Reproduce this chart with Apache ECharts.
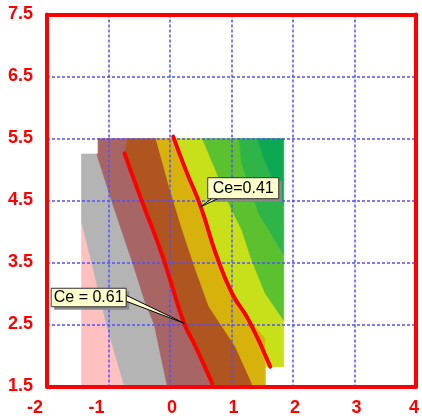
<!DOCTYPE html>
<html><head><meta charset="utf-8">
<script src="https://cdn.jsdelivr.net/npm/echarts@6/dist/echarts.min.js"></script>
<style>html,body{margin:0;padding:0;background:#fff}#c{width:422px;height:419px}</style>
</head><body><div id="c"></div>
<script>
// ---- axis ranges ----
const xRange = [-2, 4];
const yRange = [1.5, 7.5];

// ---- data domain (union of two rectangles: [xmin, xmax, ymin, ymax]) ----
const domainLower = [-1.44, 1.55, 1.5, 5.25];
const domainUpper = [-1.17, 1.85, 1.82, 5.5];

// ---- filled-contour band boundaries (top to bottom, left band | right band) ----
const edgePinkGray   = [[-1.6,6],[-1.6,4.3],[-1.435,4.14],[-1.273,3.5],[-1.03,2.49],[-0.74,1.5],[-0.7,1.0]];
const edgeGrayRosy   = [[-1.19,6],[-1.19,5.25],[-0.95,4.5],[-0.61,3.5],[-0.4,2.85],[-0.255,2.5],[-0.045,1.5],[0,1.0]];
const edgeRosyBrown  = [[-0.70,6],[-0.70,5.5],[-0.74,5.26],[-0.444,4.455],[-0.175,3.755],[-0.013,3.27],[0.23,2.52],[0.418,2.14],[0.687,1.55],[0.72,1.0]];
const edgeBrownGold  = [[-0.23,6],[-0.228,5.5],[-0.013,4.72],[0.202,4.02],[0.418,3.38],[0.633,2.79],[1.065,2.14],[1.333,1.55],[1.36,1.0]];
const edgeGoldYellow = [[0.05,6],[0.05,5.5],[0.257,4.99],[0.5,4.4],[0.742,3.65],[1.01,3.0],[1.30,2.58],[1.55,2.28],[1.55,1.0]];
const edgeYellowLight= [[0.525,6],[0.525,5.5],[0.742,4.99],[0.956,4.45],[1.17,4.02],[1.328,3.54],[1.55,3.0],[1.845,2.57],[2.3,2.0],[2.3,1.0]];
const edgeLightGreen = [[1.118,6],[1.118,5.5],[1.166,5.1],[1.44,4.3],[1.845,3.62],[2.5,3.0],[2.5,1.0]];
const edgeGreenDark  = [[1.41,6],[1.41,5.5],[1.60,4.99],[1.845,4.43],[2.7,3.5],[2.7,1.0]];

// ---- contour lines ----
const lineCe061 = [[-0.74,5.26],[-0.444,4.455],[-0.175,3.755],[-0.013,3.27],[0.23,2.52],[0.418,2.14],[0.687,1.55]];
const lineCe041 = [[0.052,5.53],[0.257,4.99],[0.5,4.4],[0.742,3.65],[1.01,3.0],[1.28,2.57],[1.63,1.82]];

// ---- callouts ----
const calloutText = ['Ce = 0.61', 'Ce=0.41'];
const calloutAt = [[0.23, 2.52], [0.5, 4.4]];

// ---- styles ----
const bandColors = ['#FFC0C0','#B4B4B4','#A86565','#AE5520','#D8B20C','#C8E01A','#5CC12E','#2FB447','#0FA852'];
const calloutLayout = [
  {dx:-133, dy:-35, w:75, h:18.5, base:[[-58,-28],[-58,-22]]},
  {dx:7, dy:-29, w:71, h:21, base:[[11,-8],[17,-8]]}
];

const edges = [edgePinkGray, edgeGrayRosy, edgeRosyBrown, edgeBrownGold, edgeGoldYellow, edgeYellowLight, edgeLightGreen, edgeGreenDark];

function clipHalf(poly, axis, v, keepGreater) {
  const out = [];
  const inside = p => keepGreater ? p[axis] >= v : p[axis] <= v;
  for (let i = 0; i < poly.length; i++) {
    const a = poly[i], b = poly[(i + 1) % poly.length];
    const ia = inside(a), ib = inside(b);
    if (ia) out.push(a);
    if (ia !== ib) {
      const t = (v - a[axis]) / (b[axis] - a[axis]);
      out.push([a[0] + t * (b[0] - a[0]), a[1] + t * (b[1] - a[1])]);
    }
  }
  return out;
}
function clipRect(poly, r) {
  let p = clipHalf(poly, 0, r[0], true);
  if (p.length) p = clipHalf(p, 0, r[1], false);
  if (p.length) p = clipHalf(p, 1, r[2], true);
  if (p.length) p = clipHalf(p, 1, r[3], false);
  return p;
}

const pieces = [];
[domainLower, domainUpper].forEach(rect => {
  for (let i = 0; i < bandColors.length; i++) {
    const left = i === 0 ? [[-3,6],[-3,1]] : edges[i - 1];
    const right = i === bandColors.length - 1 ? [[3,6],[3,1]] : edges[i];
    const poly = left.concat(right.slice().reverse());
    const c = clipRect(poly, rect);
    if (c.length >= 3) pieces.push({poly: c, color: bandColors[i]});
  }
});

const labelFont = {fontFamily: '"Liberation Sans", Arial, sans-serif', fontWeight: 'bold', fontSize: 18, color: '#ff0000'};
const frameLine = {show: true, onZero: false, lineStyle: {color: '#ff0000', width: 4}};
const gridLine = {show: true, lineStyle: {color: '#5050ff', width: 1.5, type: [3, 2]}};
function xAxisDef(extra) {
  return Object.assign({type: 'value', min: xRange[0], max: xRange[1], interval: 1,
    axisTick: {show: false}, axisLabel: {show: false}, axisLine: {show: false}, splitLine: {show: false}}, extra);
}
function yAxisDef(extra) {
  return Object.assign({type: 'value', min: yRange[0], max: yRange[1], interval: 1,
    axisTick: {show: false}, axisLabel: {show: false}, axisLine: {show: false}, splitLine: {show: false}}, extra);
}

const chart = echarts.init(document.getElementById('c'), null, {renderer: 'canvas'});
chart.setOption({
  animation: false,
  backgroundColor: '#ffffff',
  grid: {left: 47, right: 3.7, top: 14.5, bottom: 32.5, containLabel: false},
  xAxis: [
    xAxisDef({position: 'bottom', z: 5, axisLine: frameLine,
      axisLabel: Object.assign({show: true, margin: 13,
        formatter: v => v < 0 ? '{n|' + v + '}' : (v === xRange[1] ? '{e|' + v + '}' : '{p|' + v + '}'),
        rich: {n: Object.assign({padding: [0, 24, 0, 0]}, labelFont),
               p: Object.assign({padding: [0, 0, 0, 4]}, labelFont),
               e: Object.assign({padding: [0, 4, 0, 0]}, labelFont)}}, labelFont)}),
    xAxisDef({position: 'top', z: 5, axisLine: frameLine}),
    xAxisDef({position: 'bottom', z: 2, splitLine: gridLine})
  ],
  yAxis: [
    yAxisDef({position: 'left', z: 5, axisLine: frameLine,
      axisLabel: Object.assign({show: true, margin: 14, formatter: v => v.toFixed(1)}, labelFont)}),
    yAxisDef({position: 'right', z: 5, axisLine: frameLine}),
    yAxisDef({position: 'left', z: 2, splitLine: gridLine})
  ],
  series: [
    {
      type: 'custom', z: 1, clip: true, silent: true,
      data: pieces.map((p, i) => [0, 3, i]),
      renderItem: (params, api) => {
        const pc = pieces[params.dataIndex];
        return {type: 'polygon', shape: {points: pc.poly.map(p => api.coord(p))},
          style: {fill: pc.color, stroke: pc.color, lineWidth: 0.6}};
      }
    },
    {type: 'line', z: 3, data: lineCe061, smooth: 0.5, symbol: 'none', silent: true,
     lineStyle: {color: '#ff0000', width: 4, cap: 'round'}},
    {type: 'line', z: 3, data: lineCe041, smooth: 0.5, symbol: 'none', silent: true,
     lineStyle: {color: '#ff0000', width: 4, cap: 'round'}},
    {
      type: 'custom', z: 6, clip: false, silent: true,
      data: calloutAt.map((p, i) => [p[0], p[1], i]),
      renderItem: (params, api) => {
        const i = params.dataIndex;
        const L = calloutLayout[i];
        const c = api.coord([api.value(0), api.value(1)]);
        const bx = c[0] + L.dx, by = c[1] + L.dy;
        return {
          type: 'group',
          children: [
            {type: 'rect', shape: {x: bx + 3, y: by + 3, width: L.w, height: L.h}, style: {fill: '#8a8a8a'}},
            {type: 'polygon', shape: {points: [[c[0] + L.base[0][0], c[1] + L.base[0][1]], [c[0] + L.base[1][0], c[1] + L.base[1][1]], [c[0], c[1]]]},
             style: {fill: '#ffffcc', stroke: '#000000', lineWidth: 1}},
            {type: 'rect', shape: {x: bx, y: by, width: L.w, height: L.h}, style: {fill: '#ffffcc', stroke: '#333333', lineWidth: 1}},
            {type: 'text', style: {text: calloutText[i], x: bx + L.w / 2, y: by + L.h / 2 + 0.5, align: 'center', verticalAlign: 'middle',
              fontSize: 16, fontFamily: '"Liberation Sans", Arial, sans-serif', fill: '#000000'}}
          ]
        };
      }
    }
  ]
});
</script></body></html>
